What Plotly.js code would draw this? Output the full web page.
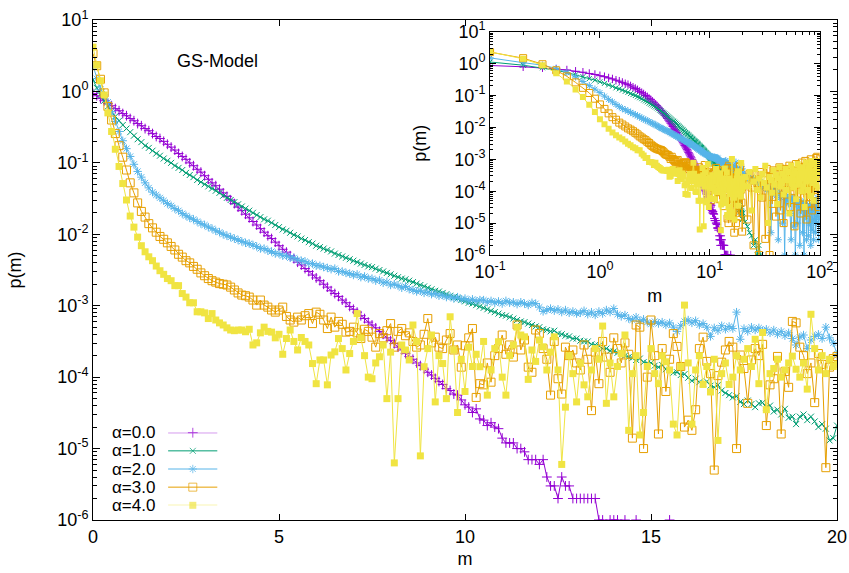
<!DOCTYPE html>
<html>
<head>
<meta charset="utf-8">
<script src="https://cdn.plot.ly/plotly-3.0.1.min.js"></script>
<style>
  html, body { margin: 0; padding: 0; background: #fff; }
  #chart { width: 849px; height: 573px; }
</style>
</head>
<body>
<div id="chart"></div>
<script>
// p(m) histograms of the GS-Model, bin width 0.1, m = 0.0 ... 20.0
const binWidth = 0.1;

const alpha0 = [
  0.933, 0.871, 0.794, 0.741, 0.676, 0.631, 0.575, 0.537, 0.490, 0.457,
  0.417, 0.389, 0.355, 0.331, 0.302, 0.282, 0.257, 0.234, 0.219, 0.200,
  0.182, 0.166, 0.151, 0.135, 0.123, 0.112, 0.100, 0.0912, 0.0813, 0.0741,
  0.0661, 0.0589, 0.0525, 0.0479, 0.0427, 0.0380, 0.0339, 0.0302, 0.0269, 0.0240,
  0.0214, 0.0191, 0.0170, 0.0151, 0.0135, 0.0120, 0.0107, 0.00955, 0.00871, 0.00776,
  0.00692, 0.00617, 0.00562, 0.00501, 0.00457, 0.00407, 0.00372, 0.00331, 0.00302, 0.00269,
  0.00245, 0.00224, 0.00200, 0.00182, 0.00162, 0.00148, 0.00135, 0.00120, 0.00110, 9.77e-4,
  8.91e-4, 8.13e-4, 7.24e-4, 6.61e-4, 5.89e-4, 5.37e-4, 4.90e-4, 4.37e-4, 3.98e-4, 3.55e-4,
  3.24e-4, 2.95e-4, 2.63e-4, 2.40e-4, 2.14e-4, 1.95e-4, 1.78e-4, 1.58e-4, 1.45e-4, 1.29e-4,
  1.17e-4, 1.07e-4, 9.6e-5, 8.7e-5, 7.9e-5, 6.9e-5, 6.5e-5, 5.8e-5, 5.6e-5, 4.8e-5,
  4.1e-5, 3.8e-5, 3.2e-5, 3.6e-5, 2.6e-5, 2.5e-5, 2.1e-5, 2.3e-5, 2.0e-5, 1.9e-5,
  1.4e-5, 1.2e-5, 1.2e-5, 1.2e-5, 1.0e-5, 1.0e-5, 9e-6, 7e-6, 7e-6, 7e-6,
  6e-6, 7e-6, 4e-6, 3e-6, 3e-6, 2e-6, 4e-6, 3e-6, 3e-6, 2e-6,
  2e-6, 2e-6, 2e-6, 2e-6, 2e-6, 2e-6, 1e-6, 1e-6, null, 1e-6,
  1e-6, 1e-6, null, 1e-6, null, null, 1e-6, null, null, null,
  null, null, null, null, null, 1e-6, null, null, null, null,
  null, null, null, null, null, null, null, null, null, null,
  null, null, null, null, null, null, null, null, null, null,
  null, null, null, null, null, null, null, null, null, null,
  null, null, null, null, null, null, null, null, null, null,
  null
];

const alpha1 = [
  1.445, 1.122, 0.891, 0.741, 0.617, 0.525, 0.447, 0.389, 0.339, 0.302,
  0.269, 0.240, 0.214, 0.195, 0.174, 0.162, 0.148, 0.135, 0.126, 0.115,
  0.107, 0.100, 0.0912, 0.0851, 0.0794, 0.0724, 0.0676, 0.0631, 0.0575, 0.0537,
  0.0501, 0.0468, 0.0437, 0.0407, 0.0380, 0.0347, 0.0324, 0.0302, 0.0282, 0.0263,
  0.0245, 0.0229, 0.0214, 0.0200, 0.0186, 0.0174, 0.0162, 0.0155, 0.0145, 0.0135,
  0.0126, 0.0117, 0.0112, 0.0105, 0.00977, 0.00933, 0.00871, 0.00832, 0.00776, 0.00741,
  0.00692, 0.00661, 0.00631, 0.00603, 0.00575, 0.00537, 0.00513, 0.00490, 0.00468, 0.00447,
  0.00427, 0.00407, 0.00389, 0.00372, 0.00355, 0.00347, 0.00331, 0.00316, 0.00302, 0.00288,
  0.00275, 0.00263, 0.00251, 0.00240, 0.00234, 0.00224, 0.00214, 0.00204, 0.00195, 0.00186,
  0.00178, 0.00170, 0.00162, 0.00158, 0.00151, 0.00145, 0.00138, 0.00132, 0.00126, 0.00120,
  0.00115, 0.00110, 0.00107, 0.00102, 9.77e-4, 9.33e-4, 8.91e-4, 8.51e-4, 8.13e-4, 7.76e-4,
  7.41e-4, 7.24e-4, 6.92e-4, 6.61e-4, 6.31e-4, 6.03e-4, 5.89e-4, 5.62e-4, 5.37e-4, 5.13e-4,
  5.01e-4, 4.68e-4, 4.57e-4, 4.37e-4, 4.47e-4, 4.07e-4, 3.98e-4, 3.80e-4, 3.72e-4, 3.47e-4,
  3.47e-4, 3.24e-4, 3.16e-4, 3.16e-4, 2.88e-4, 2.82e-4, 2.75e-4, 2.51e-4, 2.51e-4, 2.34e-4,
  2.29e-4, 2.19e-4, 2.19e-4, 2.00e-4, 1.91e-4, 1.86e-4, 1.74e-4, 1.82e-4, 1.62e-4, 1.58e-4,
  1.58e-4, 1.45e-4, 1.38e-4, 1.48e-4, 1.29e-4, 1.26e-4, 1.15e-4, 1.17e-4, 1.07e-4, 1.10e-4,
  9.8e-5, 8.9e-5, 9.5e-5, 8.5e-5, 8.1e-5, 8.7e-5, 7.6e-5, 7.2e-5, 7.8e-5, 6.5e-5,
  6.0e-5, 5.6e-5, 5.2e-5, 5.4e-5, 4.5e-5, 4.2e-5, 4.7e-5, 4.2e-5, 3.8e-5, 4.3e-5,
  4.4e-5, 3.8e-5, 4.0e-5, 3.3e-5, 3.5e-5, 3.0e-5, 3.6e-5, 2.7e-5, 2.8e-5, 2.2e-5,
  2.8e-5, 3.0e-5, 2.5e-5, 2.8e-5, 2.4e-5, 2.0e-5, 2.2e-5, 1.9e-5, 1.3e-5, 1.4e-5,
  2.1e-5
];

const alpha2 = [
  2.29, 1.51, 1.07, 0.891, 0.708, 0.525, 0.380, 0.275, 0.204, 0.158,
  0.123, 0.0955, 0.0759, 0.0631, 0.0525, 0.0447, 0.0389, 0.0355, 0.0324, 0.0295,
  0.0269, 0.0251, 0.0229, 0.0214, 0.0195, 0.0182, 0.0170, 0.0162, 0.0151, 0.0141,
  0.0135, 0.0126, 0.0120, 0.0112, 0.0107, 0.0100, 0.00955, 0.00912, 0.00871, 0.00832,
  0.00794, 0.00759, 0.00741, 0.00708, 0.00676, 0.00631, 0.00631, 0.00589, 0.00575, 0.00537,
  0.00537, 0.00501, 0.00501, 0.00468, 0.00468, 0.00437, 0.00427, 0.00417, 0.00389, 0.00389,
  0.00363, 0.00363, 0.00347, 0.00339, 0.00324, 0.00331, 0.00302, 0.00302, 0.00288, 0.00282,
  0.00269, 0.00275, 0.00251, 0.00257, 0.00240, 0.00240, 0.00224, 0.00229, 0.00209, 0.00214,
  0.00195, 0.00200, 0.00191, 0.00178, 0.00186, 0.00170, 0.00166, 0.00158, 0.00162, 0.00151,
  0.00155, 0.00145, 0.00148, 0.00138, 0.00141, 0.00132, 0.00135, 0.00126, 0.00132, 0.00123,
  0.00126, 0.00117, 0.00123, 0.00115, 0.00120, 0.00120, 0.00112, 0.00117, 0.00110, 0.00115,
  0.00107, 0.00117, 0.00110, 0.00112, 0.00105, 0.00112, 0.00107, 0.00102, 0.00110, 0.00107,
  9.55e-4, 8.32e-4, 8.71e-4, 9.12e-4, 8.51e-4, 8.91e-4, 8.13e-4, 8.71e-4, 7.94e-4, 8.32e-4,
  7.76e-4, 7.94e-4, 8.51e-4, 7.59e-4, 8.13e-4, 7.41e-4, 8.32e-4, 7.76e-4, 8.71e-4, 8.13e-4,
  9.12e-4, 7.59e-4, 7.08e-4, 7.41e-4, 6.61e-4, 6.31e-4, 6.92e-4, 6.03e-4, 6.46e-4, 5.89e-4,
  5.50e-4, 6.03e-4, 5.62e-4, 5.89e-4, 5.37e-4, 5.75e-4, 5.01e-4, 4.37e-4, 5.25e-4, 6.03e-4,
  6.31e-4, 5.75e-4, 6.17e-4, 5.37e-4, 5.62e-4, 5.01e-4, 3.72e-4, 4.90e-4, 4.47e-4, 5.25e-4,
  4.68e-4, 5.13e-4, 4.79e-4, 8.13e-4, 3.39e-4, 4.79e-4, 4.37e-4, 5.01e-4, 4.57e-4, 4.90e-4,
  4.47e-4, 4.68e-4, 4.17e-4, 4.57e-4, 3.98e-4, 4.37e-4, 3.80e-4, 4.17e-4, 3.47e-4, 2.82e-4,
  3.63e-4, 3.89e-4, 2.51e-4, 3.31e-4, 3.72e-4, 3.98e-4, 3.47e-4, 5.01e-4, 3.55e-4, 3.02e-4,
  2.09e-4
];

const alpha3 = [
  3.39, 2.29, 1.48, 0.955, 0.617, 0.398, 0.257, 0.174, 0.120, 0.0794,
  0.0525, 0.0380, 0.0275, 0.0209, 0.0174, 0.0141, 0.0123, 0.0107, 0.00933, 0.00851,
  0.00759, 0.00676, 0.00603, 0.00525, 0.00479, 0.00427, 0.00398, 0.00355, 0.00324, 0.00288,
  0.00263, 0.00240, 0.00224, 0.00214, 0.00204, 0.00200, 0.00195, 0.00182, 0.00166, 0.00151,
  0.00141, 0.00138, 0.00132, 0.00120, 0.00102, 0.00120, 0.00102, 9.55e-4, 8.71e-4, 8.13e-4,
  8.71e-4, 9.55e-4, 7.08e-4, 6.31e-4, 5.89e-4, 6.92e-4, 6.31e-4, 7.24e-4, 7.76e-4, 5.62e-4,
  8.13e-4, 7.59e-4, 6.31e-4, 4.79e-4, 6.92e-4, 5.01e-4, 6.03e-4, 5.50e-4, 4.27e-4, 4.37e-4,
  5.01e-4, 4.17e-4, 3.47e-4, 4.68e-4, 4.37e-4, 3.63e-4, 2.63e-4, 4.07e-4, 3.55e-4, 4.47e-4,
  5.62e-4, 2.63e-4, 4.37e-4, 4.79e-4, 3.80e-4, 4.17e-4, 3.16e-4, 2.63e-4, 2.82e-4, 3.98e-4,
  6.61e-4, 3.02e-4, 3.63e-4, 2.63e-4, 2.51e-4, 3.31e-4, 4.07e-4, 2.40e-4, 2.82e-4, 1.38e-4,
  2.75e-4, 3.55e-4, 4.79e-4, 5.2e-5, 8.1e-5, 7.8e-5, 1.58e-4, 8.5e-5, 2.00e-4, 2.51e-4,
  3.89e-4, 2.09e-4, 2.82e-4, 1.91e-4, 5.37e-4, 2.40e-4, 3.31e-4, 1.38e-4, 1.17e-4, 4.57e-4,
  4.07e-4, 2.51e-4, 1.78e-4, 5.6e-5, 3.16e-4, 9.5e-5, 5.8e-5, 2.63e-4, 2.00e-4, 2.40e-4,
  1.58e-4, 1.26e-4, 2.82e-4, 1.78e-4, 3.4e-5, 2.24e-4, 8.1e-5, 3.16e-4, 1.91e-4, 1.17e-4,
  3.55e-4, 2.51e-4, 1.58e-4, 3.02e-4, 2.09e-4, 1.4e-5, 5.37e-4, 5.01e-4, 1.0e-5, 1.0e-4,
  6.31e-4, 2.00e-4, 1.6e-5, 2.51e-4, 6.3e-5, 1.78e-4, 4.07e-4, 2.69e-4, 1.41e-4, 2.0e-5,
  2.5e-5, 1.8e-5, 3.5e-5, 2.51e-4, 3.63e-4, 1.66e-4, 1.12e-4, 5.0e-6, 1.05e-4, 1.62e-4,
  2.40e-4, 3.16e-4, 2.63e-4, 1.0e-5, 2.04e-4, 1.32e-4, 4.3e-5, 1.74e-4, 2.51e-4, 2.00e-4,
  2.88e-4, 2.1e-5, 7.8e-5, 9.5e-5, 1.95e-4, 1.6e-5, 1.20e-4, 7.2e-5, 6.03e-4, 5.75e-4,
  2.63e-4, 2.00e-4, 1.12e-4, 1.58e-4, 4.4e-5, 2.14e-4, 1.51e-4, 5.4e-6, 1.38e-4, 1.82e-4,
  1.95e-4
];

const alpha4 = [
  4.17, 2.34, 1.41, 0.891, 0.501, 0.275, 0.155, 0.0891, 0.0513, 0.0302,
  0.0180, 0.0126, 0.00912, 0.00692, 0.00569, 0.00484, 0.00427, 0.00359, 0.00309, 0.00275,
  0.00240, 0.00224, 0.00191, 0.00191, 0.00148, 0.00132, 0.00110, 0.00110, 8.22e-4, 8.22e-4,
  7.94e-4, 6.61e-4, 7.76e-4, 6.31e-4, 5.75e-4, 5.37e-4, 4.90e-4, 4.57e-4, 4.47e-4, 4.57e-4,
  4.57e-4, 4.32e-4, 4.68e-4, 2.82e-4, 3.02e-4, 4.17e-4, 5.01e-4, 4.37e-4, 4.27e-4, 3.55e-4,
  3.98e-4, 2.09e-4, 3.47e-4, 4.57e-4, 3.16e-4, 2.40e-4, 3.59e-4, 3.16e-4, 2.82e-4, 1.55e-4,
  8.1e-5, 1.74e-4, 1.74e-4, 7.8e-5, 2.04e-4, 2.26e-4, 3.47e-4, 2.51e-4, 1.26e-4, 2.14e-4,
  3.16e-4, 7.76e-4, 3.55e-4, 2.00e-4, 1.0e-4, 9.5e-5, 1.58e-4, 1.93e-4, 2.82e-4, 5.0e-5,
  2.24e-4, 6.3e-6, 5.0e-5, 2.82e-4, 2.40e-4, 1.74e-4, 5.37e-4, 3.16e-4, 7.9e-6, 1.40e-4,
  2.51e-4, 3.89e-4, 4.5e-5, 2.00e-4, 1.55e-4, 5.0e-5, 7.00e-4, 2.40e-4, 3.2e-5, 1.78e-4,
  6.3e-5, 2.63e-4, 1.41e-4, 2.09e-4, 1.40e-4, 3.16e-4, 5.6e-5, 1.26e-4, 2.51e-4, 3.13e-4,
  1.0e-4, 5.6e-5, 2.00e-4, 2.82e-4, 5.01e-4, 3.89e-4, 3.67e-4, 9.3e-5, 2.40e-4, 1.66e-4,
  3.31e-4, 2.66e-4, 1.26e-4, 2.24e-4, 3.67e-4, 1.26e-4, 6.0e-6, 3.8e-5, 2.00e-4, 1.12e-4,
  4.5e-5, 1.58e-4, 7.8e-5, 5.3e-5, 1.26e-4, 2.51e-4, 1.78e-4, 5.19e-4, 4.3e-5, 1.58e-4,
  5.3e-5, 1.41e-4, 2.14e-4, 3.89e-4, 1.8e-5, 1.12e-4, 2.00e-4, 1.55e-5, 3.2e-5, 1.41e-4,
  2.51e-4, 1.12e-4, 8.1e-5, 2.00e-4, 1.64e-4, 1.26e-4, 2.2e-5, 1.55e-5, 1.41e-4, 1.02e-3,
  1.58e-4, 2.2e-5, 1.26e-4, 2.00e-4, 7.9e-5, 1.41e-4, 6.2e-5, 1.78e-4, 1.3e-5, 1.12e-4,
  1.58e-4, 7.9e-5, 1.0e-4, 2.00e-4, 1.26e-4, 1.78e-4, 2.51e-4, 1.41e-4, 3.39e-4, 8.1e-5,
  4.22e-4, 3.5e-5, 1.12e-4, 1.32e-4, 1.78e-4, 1.0e-4, 1.26e-4, 1.58e-4, 1.97e-4, 1.29e-4,
  1.0e-4, 1.58e-4, 6.8e-5, 7.59e-4, 2.51e-4, 1.26e-4, 2.00e-4, 1.12e-4, 1.78e-4, 1.41e-4,
  1.51e-4
];

// Tail of the distributions beyond m = 20 (shown only in the log-log inset), m = 21, 22, ... 100
const tail0 = [];
const tail1 = [1.1e-5, 7.9e-6, 5.0e-6, 4.0e-6, 2.0e-6, 3.0e-6, 1.0e-6, 2.0e-6, 1.0e-6];
const tail2 = [
  3.2e-4, 2.6e-4, 2.9e-4, 2.2e-4, 2.5e-4, 1.9e-4, 2.3e-4, 1.6e-4, 2.0e-4, 1.4e-4,
  1.7e-4, 1.2e-4, 1.5e-4, 1.0e-4, 1.3e-4, 5.0e-6, 1.1e-4, 8.9e-5, 1.2e-4, 7.1e-5,
  9.5e-5, 3.0e-6, 8.0e-5, 6.3e-5, 8.9e-5, 1.0e-5, 7.1e-5, 1.0e-6, 7.9e-5, 5.0e-5,
  6.3e-5, 4.0e-5, 7.1e-5, 2.0e-5, 3.0e-6, 5.6e-5, 6.3e-5, 8.0e-6, 5.0e-5, 1.0e-6,
  4.5e-5, 5.6e-5, 1.0e-5, 4.0e-5, 3.2e-5, 2.0e-6, 5.0e-5, 2.5e-5, 4.0e-5, 5.0e-6,
  4.5e-5, 1.0e-6, 3.2e-5, 1.6e-5, 4.0e-5, 3.0e-6, 3.5e-5, 2.5e-5, 4.0e-6, 3.2e-5,
  1.0e-5, 3.5e-5, 2.0e-6, 4.0e-5, 6.0e-6, 2.5e-5, 3.2e-5, 3.0e-6, 4.0e-5, 1.3e-5,
  3.0e-5, 5.0e-6, 4.5e-5, 1.0e-5, 6.3e-5, 1.6e-5, 4.0e-5, 3.0e-6, 3.2e-5, 1.3e-5
];
const tail3 = [
  2.5e-4, 1.3e-5, 3.5e-4, 1.3e-4, 2.0e-6, 3.2e-4, 1.8e-4, 1.0e-6, 4.0e-4, 6.3e-5,
  2.2e-4, 3.2e-6, 5.0e-4, 1.4e-4, 1.0e-6, 2.8e-4, 4.0e-5, 4.5e-4, 2.0e-4, 1.6e-5,
  3.5e-4, 1.1e-4, 5.6e-4, 2.5e-5, 2.5e-4, 4.0e-4, 1.0e-5, 1.8e-4, 5.0e-4, 7.9e-5,
  3.2e-4, 1.4e-4, 6.3e-4, 3.2e-5, 2.2e-4, 4.5e-4, 1.0e-4, 2.8e-4, 7.9e-6, 3.5e-4,
  7.1e-4, 1.6e-4, 5.0e-5, 4.0e-4, 2.5e-4, 5.6e-4, 2.0e-5, 2.0e-4, 7.9e-4, 1.3e-4,
  3.2e-4, 6.3e-5, 4.5e-4, 8.9e-4, 1.8e-4, 1.3e-5, 3.5e-4, 6.3e-4, 1.4e-4, 2.8e-4,
  4.0e-5, 5.0e-4, 1.0e-3, 2.0e-4, 2.5e-5, 4.0e-4, 7.1e-4, 1.1e-4, 3.2e-4, 7.9e-5,
  5.6e-4, 2.5e-4, 1.1e-3, 1.6e-4, 1.2e-3, 3.5e-4, 3.2e-5, 7.9e-4, 2.8e-4, 1.0e-3
];
const tail4 = [
  2.8e-4, 1.4e-4, 4.0e-4, 2.5e-5, 2.0e-4, 5.0e-4, 1.1e-4, 2.5e-4, 6.3e-5, 3.5e-4,
  1.8e-4, 6.3e-4, 1.3e-4, 1.0e-5, 2.8e-4, 2.2e-4, 8.9e-5, 4.5e-4, 1.6e-4, 3.2e-4,
  4.0e-5, 2.5e-4, 5.6e-4, 1.4e-4, 2.0e-4, 3.5e-4, 7.9e-5, 2.8e-4, 5.0e-4, 1.1e-4,
  2.2e-4, 4.0e-4, 2.0e-5, 2.5e-4, 6.3e-4, 1.8e-4, 3.2e-4, 1.3e-4, 4.5e-4, 2.2e-4,
  5.6e-5, 3.5e-4, 7.1e-4, 1.6e-4, 2.8e-4, 2.0e-4, 5.0e-4, 1.0e-4, 3.2e-4, 5.6e-4,
  1.4e-4, 2.5e-4, 3.2e-5, 4.0e-4, 7.9e-4, 2.0e-4, 2.8e-4, 1.1e-4, 5.0e-4, 2.2e-4,
  6.3e-4, 7.1e-5, 3.5e-4, 2.5e-4, 8.9e-4, 1.8e-4, 4.0e-4, 5.0e-5, 2.8e-4, 7.1e-4,
  2.2e-4, 4.5e-4, 1.6e-4, 7.9e-4, 3.2e-4, 5.6e-4, 1.3e-4, 8.9e-4, 4.0e-4, 7.1e-4
];

const seriesNames = ['α=0.0', 'α=1.0', 'α=2.0', 'α=3.0', 'α=4.0'];
const mainSeries = [alpha0, alpha1, alpha2, alpha3, alpha4];
const tailSeries = [tail0, tail1, tail2, tail3, tail4];

// Tick labels
const xTickVals = [0, 5, 10, 15, 20];
const xTickText = ['0', '5', '10', '15', '20'];
const yTickVals = [1e-6, 1e-5, 1e-4, 1e-3, 1e-2, 1e-1, 1, 10];
const yTickText = ['10<sup>-6</sup>', '10<sup>-5</sup>', '10<sup>-4</sup>', '10<sup>-3</sup>',
                   '10<sup>-2</sup>', '10<sup>-1</sup>', '10<sup>0</sup>', '10<sup>1</sup>'];
const insetXTickVals = [0.1, 1, 10, 100];
const insetXTickText = ['10<sup>-1</sup>', '10<sup>0</sup>', '10<sup>1</sup>', '10<sup>2</sup>'];

// Styling (gnuplot default palette and point types)
const styles = [
  { color: '#9400d3', symbol: 'cross-thin',  size: 7, lineOnly: true },
  { color: '#009e73', symbol: 'x-thin',      size: 6, lineOnly: true },
  { color: '#56b4e9', symbol: 'asterisk',    size: 7, lineOnly: true },
  { color: '#e69f00', symbol: 'square-open', size: 8, lineOnly: true },
  { color: '#f0e442', symbol: 'square',      size: 7, lineOnly: false }
];

const FONT = 'Liberation Sans, Arial, Helvetica, sans-serif';

const mMain = alpha0.map((_, i) => +(i * binWidth).toFixed(1));
const mTail = tail2.map((_, i) => 21 + i);

function markerFor(st, size) {
  if (st.lineOnly) {
    return { symbol: st.symbol, size: size, color: st.color,
             line: { color: st.color, width: 1 } };
  }
  return { symbol: st.symbol, size: size, color: st.color, line: { width: 0 } };
}

const traces = [];

// main panel
mainSeries.forEach((ys, k) => {
  const st = styles[k];
  traces.push({
    type: 'scatter', mode: 'lines+markers', name: seriesNames[k],
    x: mMain, y: ys, xaxis: 'x', yaxis: 'y',
    line: { color: st.color, width: 1 },
    marker: markerFor(st, st.size),
    connectgaps: false, hoverinfo: 'skip'
  });
});

// inset (log-log), full range of m
mainSeries.forEach((ys, k) => {
  const st = styles[k];
  const tail = tailSeries[k];
  traces.push({
    type: 'scatter', mode: 'lines+markers', name: seriesNames[k],
    x: mMain.concat(mTail.slice(0, tail.length)), y: ys.concat(tail),
    xaxis: 'x2', yaxis: 'y2',
    line: { color: st.color, width: 1 },
    marker: markerFor(st, st.size - 1),
    connectgaps: false, hoverinfo: 'skip'
  });
});

// key: a short sample line with the point type in the middle
const keyDomainY = [0.0294, 0.1746];
const keyTextX = 0.0853;
seriesNames.forEach((name, k) => {
  const st = styles[k];
  const mk = markerFor(st, st.size);
  mk.size = [0, st.size, 0];
  traces.push({
    type: 'scatter', mode: 'lines+markers', name: name,
    x: [0, 0.5, 1], y: [k, k, k], xaxis: 'x3', yaxis: 'y3',
    line: { color: st.color, width: 1 }, marker: mk,
    cliponaxis: false, hoverinfo: 'skip'
  });
});

function decadeMinors(lo, hi) {
  const v = [];
  for (let e = lo; e < hi; e++) for (let k = 2; k <= 9; k++) v.push(k * Math.pow(10, e));
  return v;
}

const axisCommon = {
  showline: true, linecolor: '#000', linewidth: 1, mirror: 'allticks',
  ticks: 'inside', tickcolor: '#000', tickwidth: 1,
  showgrid: false, zeroline: false,
  tickfont: { family: FONT, size: 18, color: '#000' }
};

const keyRowY = seriesNames.map((_, k) =>
  keyDomainY[1] - k * (keyDomainY[1] - keyDomainY[0]) / (seriesNames.length - 1));

const layout = {
  width: 849, height: 573,
  margin: { l: 93, r: 12, t: 20, b: 53, pad: 0 },
  paper_bgcolor: '#fff', plot_bgcolor: '#fff',
  showlegend: false,
  font: { family: FONT, size: 18, color: '#000' },
  xaxis: Object.assign({}, axisCommon, {
    domain: [0, 1], anchor: 'y', range: [0, 20],
    tickmode: 'array', tickvals: xTickVals, ticktext: xTickText, ticklen: 6,
    title: { text: 'm', font: { family: FONT, size: 18 }, standoff: 6 }
  }),
  yaxis: Object.assign({}, axisCommon, {
    domain: [0, 1], anchor: 'x', type: 'log', range: [-6, 1],
    tickmode: 'array', tickvals: yTickVals, ticktext: yTickText, ticklen: 7,
    minor: { tickmode: 'array', tickvals: decadeMinors(-6, 1), ticks: 'inside', ticklen: 4,
             tickcolor: '#000', tickwidth: 1, showgrid: false },
    title: { text: 'p(m)', font: { family: FONT, size: 18 }, standoff: 30 }
  }),
  xaxis2: Object.assign({}, axisCommon, {
    domain: [0.5337, 0.9767], anchor: 'y2', type: 'log', range: [-1, 2],
    tickmode: 'array', tickvals: insetXTickVals, ticktext: insetXTickText, ticklen: 6,
    minor: { tickmode: 'array', tickvals: decadeMinors(-1, 2), ticks: 'inside', ticklen: 3,
             tickcolor: '#000', tickwidth: 1, showgrid: false },
    title: { text: 'm', font: { family: FONT, size: 18 }, standoff: 8 }
  }),
  yaxis2: Object.assign({}, axisCommon, {
    domain: [0.53, 0.9766], anchor: 'x2', type: 'log', range: [-6, 1],
    tickmode: 'array', tickvals: yTickVals, ticktext: yTickText, ticklen: 6,
    minor: { tickmode: 'array', tickvals: decadeMinors(-6, 1), ticks: 'inside', ticklen: 3,
             tickcolor: '#000', tickwidth: 1, showgrid: false },
    title: { text: 'p(m)', font: { family: FONT, size: 18 }, standoff: 22 }
  }),
  xaxis3: { domain: [0.1009, 0.1674], anchor: 'y3', range: [0, 1], visible: false, fixedrange: true },
  yaxis3: { domain: keyDomainY, anchor: 'x3', range: [4, 0], visible: false, fixedrange: true },
  annotations: [
    { text: 'GS-Model', xref: 'paper', yref: 'paper', x: 0.167, y: 0.918,
      xanchor: 'center', yanchor: 'middle', showarrow: false,
      font: { family: FONT, size: 18, color: '#000' } }
  ].concat(seriesNames.map((name, k) => ({
    text: name, xref: 'paper', yref: 'paper', x: keyTextX, y: keyRowY[k],
    xanchor: 'right', yanchor: 'middle', showarrow: false, borderpad: 0,
    font: { family: FONT, size: 17, color: '#000' }
  })))
};

Plotly.newPlot('chart', traces, layout, { staticPlot: true, displayModeBar: false });
</script>
</body>
</html>
